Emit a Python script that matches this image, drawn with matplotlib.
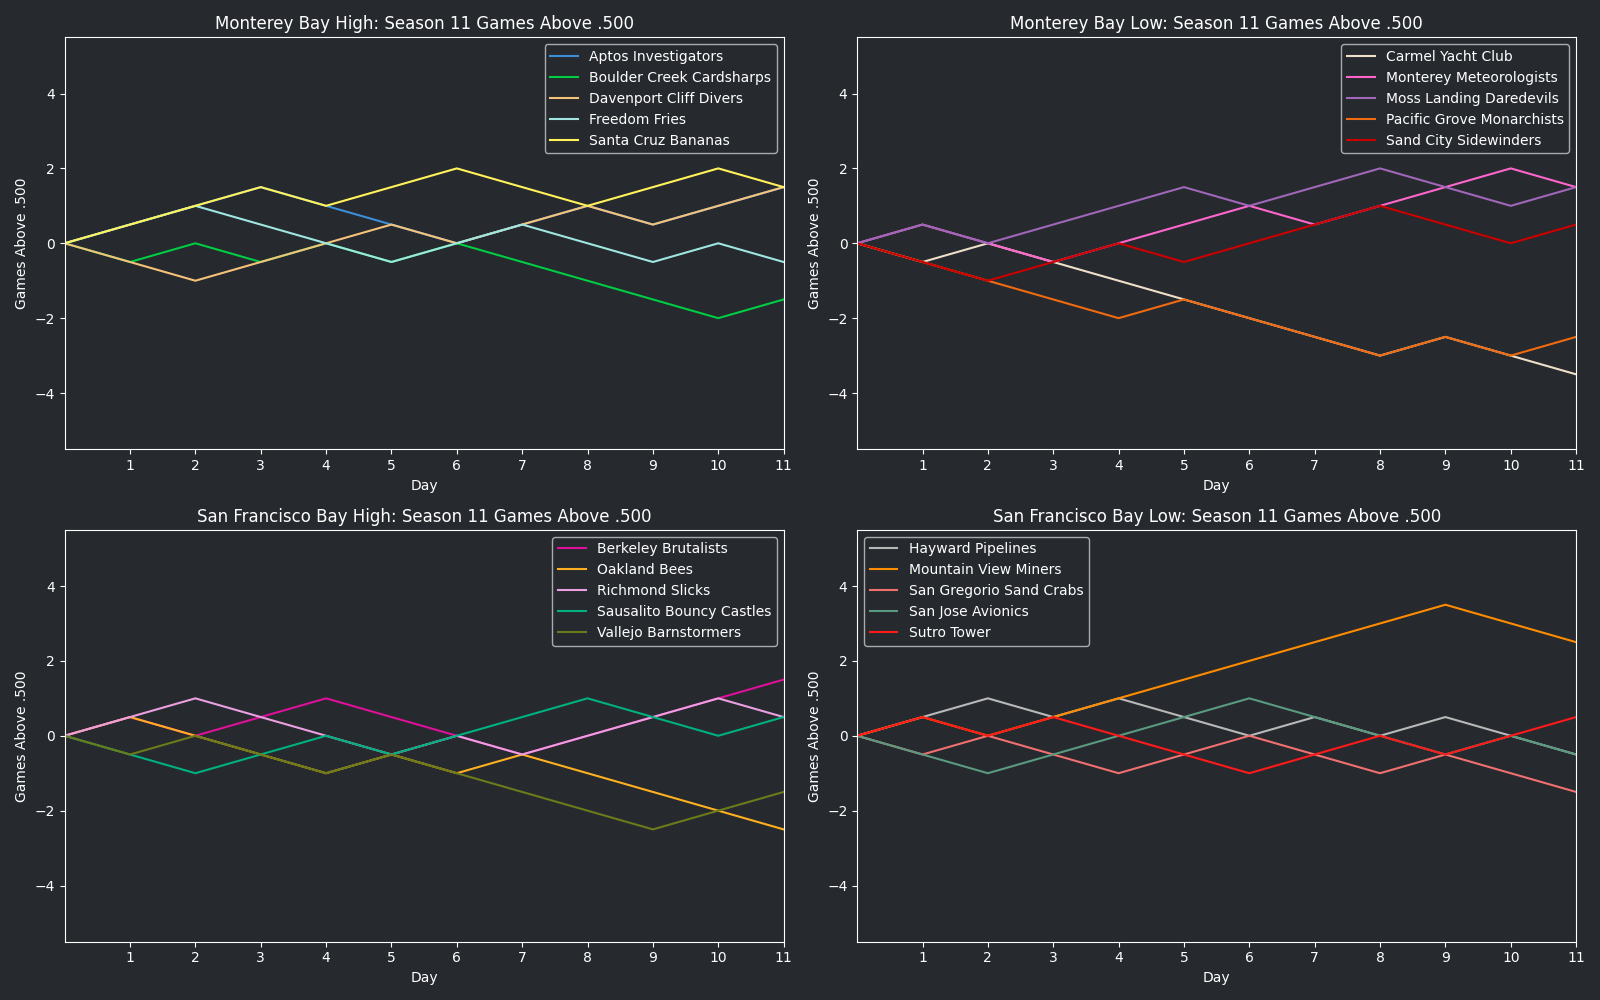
import matplotlib
matplotlib.use("Agg")
import matplotlib.pyplot as plt

days = list(range(12))

# Monterey Bay High
mbh_titles = "Monterey Bay High: Season 11 Games Above .500"
mbh_teams = ["Aptos Investigators", "Boulder Creek Cardsharps", "Davenport Cliff Divers",
             "Freedom Fries", "Santa Cruz Bananas"]
mbh_colors = ["#3b8fd6", "#00cc44", "#f5c27a", "#a0e6e0", "#fff25a"]
aptos = [0, 0.5, 1, 1.5, 1, 0.5, 0, 0.5, 1, 0.5, 1, 1.5]
boulder = [0, -0.5, 0, -0.5, 0, -0.5, 0, -0.5, -1, -1.5, -2, -1.5]
davenport = [0, -0.5, -1, -0.5, 0, 0.5, 0, 0.5, 1, 0.5, 1, 1.5]
freedom = [0, 0.5, 1, 0.5, 0, -0.5, 0, 0.5, 0, -0.5, 0, -0.5]
santacruz = [0, 0.5, 1, 1.5, 1, 1.5, 2, 1.5, 1, 1.5, 2, 1.5]

# Monterey Bay Low
mbl_title = "Monterey Bay Low: Season 11 Games Above .500"
mbl_teams = ["Carmel Yacht Club", "Monterey Meteorologists", "Moss Landing Daredevils",
             "Pacific Grove Monarchists", "Sand City Sidewinders"]
mbl_colors = ["#eedfc8", "#ff66cc", "#a066b8", "#f06a10", "#cc0000"]
carmel = [0, -0.5, 0, -0.5, -1, -1.5, -2, -2.5, -3, -2.5, -3, -3.5]
monterey = [0, 0.5, 0, -0.5, 0, 0.5, 1, 0.5, 1, 1.5, 2, 1.5]
moss = [0, 0.5, 0, 0.5, 1, 1.5, 1, 1.5, 2, 1.5, 1, 1.5]
pacific = [0, -0.5, -1, -1.5, -2, -1.5, -2, -2.5, -3, -2.5, -3, -2.5]
sandcity = [0, -0.5, -1, -0.5, 0, -0.5, 0, 0.5, 1, 0.5, 0, 0.5]

# San Francisco Bay High
sfh_title = "San Francisco Bay High: Season 11 Games Above .500"
sfh_teams = ["Berkeley Brutalists", "Oakland Bees", "Richmond Slicks",
             "Sausalito Bouncy Castles", "Vallejo Barnstormers"]
sfh_colors = ["#dd1199", "#ffb020", "#eaa0e0", "#00b080", "#6b7a1a"]
berkeley = [0, 0.5, 0, 0.5, 1, 0.5, 0, -0.5, 0, 0.5, 1, 1.5]
oakland = [0, 0.5, 0, -0.5, -1, -0.5, -1, -0.5, -1, -1.5, -2, -2.5]
richmond = [0, 0.5, 1, 0.5, 0, -0.5, 0, -0.5, 0, 0.5, 1, 0.5]
sausalito = [0, -0.5, -1, -0.5, 0, -0.5, 0, 0.5, 1, 0.5, 0, 0.5]
vallejo = [0, -0.5, 0, -0.5, -1, -0.5, -1, -1.5, -2, -2.5, -2, -1.5]

# San Francisco Bay Low
sfl_title = "San Francisco Bay Low: Season 11 Games Above .500"
sfl_teams = ["Hayward Pipelines", "Mountain View Miners", "San Gregorio Sand Crabs",
             "San Jose Avionics", "Sutro Tower"]
sfl_colors = ["#b8b8b8", "#ff8c00", "#f07070", "#5a9a80", "#ff1a1a"]
hayward = [0, 0.5, 1, 0.5, 1, 0.5, 0, 0.5, 0, 0.5, 0, -0.5]
mountain = [0, 0.5, 0, 0.5, 1, 1.5, 2, 2.5, 3, 3.5, 3, 2.5]
sangregorio = [0, -0.5, 0, -0.5, -1, -0.5, 0, -0.5, -1, -0.5, -1, -1.5]
sanjose = [0, -0.5, -1, -0.5, 0, 0.5, 1, 0.5, 0, -0.5, 0, -0.5]
sutro = [0, 0.5, 0, 0.5, 0, -0.5, -1, -0.5, 0, -0.5, 0, 0.5]

panels = [
    (mbh_titles, mbh_teams, mbh_colors, [aptos, boulder, davenport, freedom, santacruz], "upper right"),
    (mbl_title, mbl_teams, mbl_colors, [carmel, monterey, moss, pacific, sandcity], "upper right"),
    (sfh_title, sfh_teams, sfh_colors, [berkeley, oakland, richmond, sausalito, vallejo], "upper right"),
    (sfl_title, sfl_teams, sfl_colors, [hayward, mountain, sangregorio, sanjose, sutro], "upper left"),
]

BG = "#26292e"
FG = "white"
plt.rcParams['font.family'] = ['DejaVu Sans']

fig, axes = plt.subplots(2, 2, figsize=(16, 10), dpi=100)
fig.patch.set_facecolor(BG)

for ax, (title, teams, colors, series, loc) in zip(axes.flat, panels):
    ax.set_facecolor(BG)
    for team, col, vals in zip(teams, colors, series):
        ax.plot(days, vals, color=col, lw=1.5, label=team)
    ax.set_xlim(0, 11)
    ax.set_ylim(-5.5, 5.5)
    ax.set_xticks(range(1, 12))
    ax.set_yticks([-4, -2, 0, 2, 4])
    ax.set_title(title, color=FG, fontsize=12)
    ax.set_xlabel("Day", color=FG, fontsize=10)
    ax.set_ylabel("Games Above .500", color=FG, fontsize=10)
    ax.tick_params(colors=FG, labelsize=10)
    for sp in ax.spines.values():
        sp.set_color(FG)
    leg = ax.legend(loc=loc, fontsize=10, facecolor=BG, edgecolor="#aaaaaa", framealpha=1)
    for t in leg.get_texts():
        t.set_color(FG)

fig.tight_layout()
fig.savefig("out.png", facecolor=BG)
